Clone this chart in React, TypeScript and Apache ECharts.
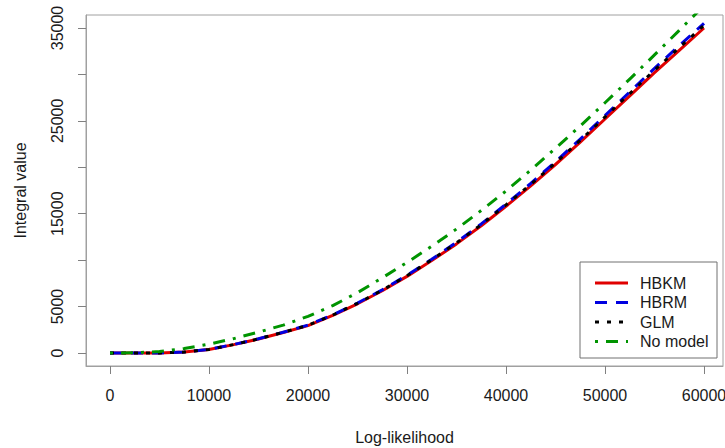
import React, { useEffect, useRef } from "react";
import * as echarts from "echarts";

// Log-likelihood grid (x) and integral values per model (y)
const logLik = [
  0, 2500, 5000, 7500, 10000, 12500, 15000, 17500, 20000, 22500, 25000, 27500, 30000,
  32500, 35000, 37500, 40000, 42500, 45000, 47500, 50000, 52500, 55000, 57500, 60000,
];
const hbkm = [
  0, 0, 10, 100, 380, 900, 1500, 2200, 2950, 4050, 5300, 6700, 8250,
  9950, 11750, 13700, 15800, 18000, 20300, 22700, 25200, 27700, 30200, 32600, 35000,
];
const hbrm = [
  0, 0, 10, 100, 390, 920, 1530, 2240, 3000, 4110, 5380, 6800, 8370,
  10090, 11920, 13900, 16030, 18260, 20600, 23040, 25580, 28120, 30660, 33100, 35500,
];
const glm = [
  0, 0, 10, 100, 385, 910, 1520, 2230, 2980, 4090, 5350, 6760, 8330,
  10040, 11860, 13830, 15950, 18160, 20480, 22900, 25420, 27940, 30460, 32880, 35300,
];
const noModel = [
  0, 20, 150, 480, 950, 1550, 2250, 3000, 3950, 5100, 6500, 8100, 9750,
  11500, 13350, 15350, 17450, 19700, 22050, 24450, 26950, 29500, 32100, 34750, 37400,
];

const xTicks = [0, 10000, 20000, 30000, 40000, 50000, 60000];
const yTicks = [0, 5000, 10000, 15000, 20000, 25000, 30000, 35000];
const yLabels = [0, 5000, 15000, 25000, 35000];

const FONT = '"Liberation Sans", Arial, sans-serif';
const TEXT = "#1a1a1a";
const FRAME = "#a0a0a0";

type Dash = number[] | "solid";
const models: { name: string; data: number[]; color: string; dash: Dash }[] = [
  { name: "HBKM", data: hbkm, color: "#e00000", dash: "solid" },
  { name: "HBRM", data: hbrm, color: "#0000e0", dash: [12, 9] },
  { name: "GLM", data: glm, color: "#000000", dash: [4, 8] },
  { name: "No model", data: noModel, color: "#009400", dash: [3, 8, 12, 8] },
];

const pairs = (ys: number[]) => logLik.map((x, i) => [x, ys[i]]);

// Boxed key in the lower-right corner of the plot
function legendGraphic() {
  const left = 580;
  const top = 262;
  const rowY = [283, 302.5, 322, 341.5];
  const children: any[] = [
    {
      type: "rect",
      shape: { x: left, y: top, width: 137, height: 96 },
      style: { fill: "#ffffff", stroke: "#707070", lineWidth: 1 },
    },
  ];
  models.forEach((m, i) => {
    children.push({
      type: "line",
      shape: { x1: 595, y1: rowY[i], x2: 628, y2: rowY[i] },
      style: {
        stroke: m.color,
        lineWidth: 3,
        lineDash: m.dash === "solid" ? null : m.dash,
        lineCap: "butt",
      },
    });
    children.push({
      type: "text",
      x: 640,
      y: rowY[i],
      style: {
        text: m.name,
        fill: TEXT,
        font: `16px ${FONT}`,
        textVerticalAlign: "middle",
        verticalAlign: "middle",
      },
    });
  });
  return { type: "group", z: 100, children };
}

export default function App() {
  const ref = useRef<HTMLDivElement>(null);

  useEffect(() => {
    if (!ref.current) return;
    const chart = echarts.init(ref.current, undefined, { renderer: "svg" });

    chart.setOption({
      animation: false,
      backgroundColor: "#ffffff",
      textStyle: { fontFamily: FONT },
      grid: {
        left: 86,
        right: 2,
        top: 15,
        bottom: 82,
        containLabel: false,
        outerBoundsMode: "none",
        show: true,
        borderColor: FRAME,
        borderWidth: 1,
        backgroundColor: "transparent",
      },
      xAxis: {
        type: "value",
        min: -2424,
        max: 61919,
        name: "Log-likelihood",
        nameLocation: "middle",
        nameGap: 63,
        nameTextStyle: { fontFamily: FONT, fontSize: 16, color: TEXT },
        splitLine: { show: false },
        axisLine: { show: true, onZero: false, lineStyle: { color: FRAME } },
        axisTick: {
          show: true,
          inside: false,
          length: 8,
          customValues: xTicks,
          lineStyle: { color: "#808080" },
        },
        axisLabel: {
          customValues: xTicks,
          margin: 21,
          fontFamily: FONT,
          fontSize: 16,
          color: TEXT,
          formatter: (v: number) => String(v),
        },
      },
      yAxis: {
        type: "value",
        min: -1400,
        max: 36400,
        name: "Integral value",
        nameLocation: "middle",
        nameGap: 58,
        nameRotate: 90,
        nameTextStyle: { fontFamily: FONT, fontSize: 16, color: TEXT },
        splitLine: { show: false },
        axisLine: { show: true, onZero: false, lineStyle: { color: FRAME } },
        axisTick: {
          show: true,
          inside: false,
          length: 8,
          customValues: yTicks,
          lineStyle: { color: "#808080" },
        },
        axisLabel: {
          customValues: yLabels,
          rotate: 90,
          margin: 21,
          fontFamily: FONT,
          fontSize: 16,
          color: TEXT,
          formatter: (v: number) => String(v),
        },
      },
      graphic: [legendGraphic()],
      series: models.map((m) => ({
        name: m.name,
        type: "line",
        data: pairs(m.data),
        showSymbol: false,
        symbol: "none",
        smooth: false,
        clip: true,
        lineStyle: { color: m.color, width: 3, type: m.dash, cap: "butt", join: "round" },
        itemStyle: { color: m.color },
      })),
    });

    return () => chart.dispose();
  }, []);

  return (
    <div
      ref={ref}
      style={{ position: "fixed", left: 0, top: 0, width: 725, height: 448, background: "#fff" }}
    />
  );
}
